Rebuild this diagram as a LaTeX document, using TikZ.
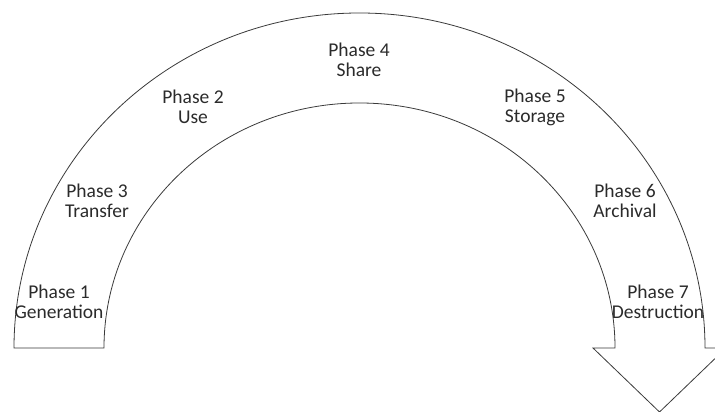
\documentclass[tikz,border=0pt]{standalone}
\usepackage{fontspec}
\setmainfont{Carlito}
\usepackage{tikz}
\usetikzlibrary{positioning}
\definecolor{archline}{HTML}{3A3A3A}
\definecolor{archtext}{HTML}{2B2B2B}

\begin{document}
\begin{tikzpicture}[x=1pt,y=1pt,
    phase/.style={text=archtext,align=center,inner sep=0pt,
      font=\fontsize{19.5}{20}\selectfont}]
    \useasboundingbox (0,0) rectangle (715,412);
    % arch with arrowhead on the right
    \draw[archline,line width=0.8pt,fill=white]
      (14,64) arc[start angle=180,end angle=0,x radius=345.5,y radius=335]
      -- (726,64) -- (659.5,0) -- (593,64) -- (615,64)
      arc[start angle=0,end angle=180,x radius=255.5,y radius=245] -- cycle;
    \node[phase] (gen) at (59,110) {Phase 1\\Generation};
    \node[phase] (trans) at (97,211) {Phase 3\\Transfer};
    \node[phase] (use) at (193,305) {Phase 2\\Use};
    \node[phase] (share) at (359,352) {Phase 4\\Share};
    \node[phase] (store) at (535,305) {Phase 5\\Storage};
    \node[phase] (arch) at (625,211) {Phase 6\\Archival};
    \node[phase] (destr) at (658,110) {Phase 7\\Destruction};
\end{tikzpicture}
\end{document}
